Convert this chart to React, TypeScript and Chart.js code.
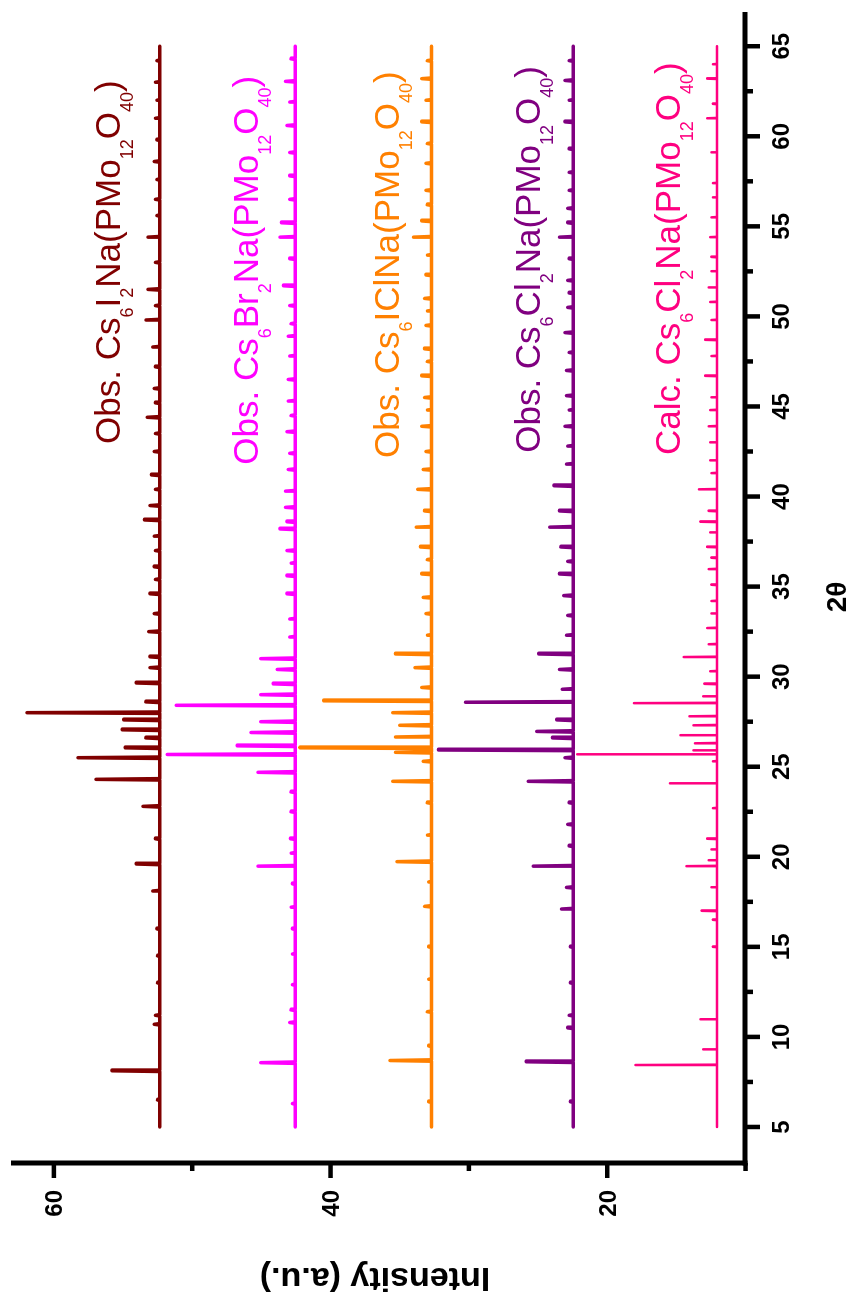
import React, { useEffect, useRef } from 'react';
import { Chart, registerables } from 'chart.js';

Chart.register(...registerables);

// ---- axes ----
const X_MIN = 3.0;
const X_MAX = 66.9;
const Y_MIN = 10.04;
const Y_MAX = 63.1;
const X_TICKS = [5, 10, 15, 20, 25, 30, 35, 40, 45, 50, 55, 60, 65];
const X_TICK_LABELS = ['5', '10', '15', '20', '25', '30', '35', '40', '45', '50', '55', '60', '65'];
const X_MINOR = [7.5, 12.5, 17.5, 22.5, 27.5, 32.5, 37.5, 42.5, 47.5, 52.5, 57.5, 62.5];
const Y_TICKS = [20, 40, 60];
const Y_TICK_LABELS = ['20', '40', '60'];
const Y_MINOR = [10, 30, 50];
const X_TITLE = '2θ';
const Y_TITLE = 'Intensity (a.u.)';
const TRACE_START = 5;
const TRACE_END = 65;

// ---- Obs. Cs6I2Na(PMo12O40) ----
const I2_BASE = 52.35;
const I2_POS = [6.5, 8.12, 10.7, 11.2, 13.0, 14.5, 16.0, 18.1, 19.6, 21.0, 22.8, 24.3, 25.5, 26.05, 26.6, 27.05, 27.6, 28.0, 28.6, 29.65, 30.5, 31.1, 32.5, 33.5, 34.6, 35.4, 36.1, 37.0, 37.8, 38.7, 39.5, 40.4, 41.2, 42.5, 43.5, 44.4, 45.2, 46.0, 47.2, 48.3, 49.8, 50.6, 51.5, 53.0, 54.4, 55.6, 56.5, 57.6, 58.6, 59.8, 61.0, 62.0, 63.0, 64.2];
const I2_H = [0.15, 3.45, 0.4, 0.3, 0.15, 0.15, 0.2, 0.5, 1.7, 0.3, 1.2, 4.6, 5.9, 2.5, 1.0, 2.7, 2.6, 9.6, 1.0, 1.7, 0.7, 0.7, 0.8, 0.4, 0.7, 0.3, 0.4, 0.3, 0.4, 1.1, 0.7, 0.3, 0.6, 0.4, 0.3, 0.9, 0.3, 0.4, 0.3, 0.5, 1.0, 0.3, 0.85, 0.3, 0.85, 0.2, 0.3, 0.2, 0.4, 0.2, 0.3, 0.2, 0.3, 0.2];

// ---- Obs. Cs6Br2Na(PMo12O40) ----
const BR_BASE = 42.55;
const BR_POS = [6.3, 8.57, 10.8, 11.5, 12.9, 14.6, 16.0, 17.2, 18.5, 19.48, 20.2, 21.0, 22.5, 23.6, 24.69, 25.68, 26.16, 26.9, 27.5, 28.41, 29.0, 29.6, 30.4, 31.0, 32.2, 33.2, 34.6, 35.6, 36.3, 37.0, 38.2, 38.6, 39.4, 40.3, 41.5, 42.4, 43.6, 44.5, 45.3, 46.5, 47.8, 48.9, 49.6, 50.6, 51.7, 53.2, 54.4, 55.2, 56.5, 57.8, 59.1, 60.6, 61.9, 63.05, 64.3];
const BR_H = [0.2, 2.5, 0.4, 0.3, 0.2, 0.2, 0.2, 0.3, 0.2, 2.7, 0.3, 0.35, 0.3, 0.3, 2.7, 9.25, 4.2, 3.2, 2.5, 8.6, 2.5, 1.6, 1.3, 2.5, 0.4, 0.4, 0.6, 0.6, 0.3, 0.6, 1.1, 0.6, 0.7, 0.7, 0.5, 0.4, 0.6, 0.3, 0.5, 0.5, 0.4, 0.5, 0.3, 0.4, 0.85, 0.4, 1.1, 1.0, 0.4, 0.4, 0.4, 0.6, 0.4, 0.7, 0.3];

// ---- Obs. Cs6IClNa(PMo12O40) ----
const ICL_BASE = 32.7;
const ICL_POS = [6.4, 8.69, 9.5, 11.4, 13.2, 15.0, 17.25, 18.6, 19.73, 21.2, 23.0, 24.19, 25.3, 25.8, 26.05, 26.65, 27.3, 28.0, 28.66, 29.4, 30.5, 31.26, 32.3, 33.5, 34.4, 35.7, 36.5, 37.2, 38.3, 39.2, 40.4, 41.5, 42.5, 43.9, 44.8, 45.5, 46.7, 47.5, 48.2, 49.5, 50.3, 51.0, 52.3, 53.4, 54.4, 55.3, 56.2, 57.0, 58.5, 59.6, 60.8, 62.0, 63.2, 64.2];
const ICL_H = [0.2, 3.0, 0.2, 0.3, 0.2, 0.2, 0.5, 0.2, 2.5, 0.3, 0.3, 2.8, 0.6, 2.6, 9.5, 2.6, 2.3, 2.8, 7.8, 0.7, 1.2, 2.6, 0.3, 0.4, 0.6, 0.7, 0.3, 0.8, 1.1, 0.5, 1.0, 0.6, 0.4, 0.7, 0.3, 0.5, 0.7, 0.3, 0.5, 0.4, 0.3, 0.5, 0.4, 0.3, 1.3, 0.7, 0.3, 0.4, 0.4, 0.3, 0.7, 0.4, 0.7, 0.3];

// ---- Obs. Cs6Cl2Na(PMo12O40) ----
const CL_BASE = 22.45;
const CL_POS = [6.4, 8.62, 10.5, 11.2, 13.0, 15.0, 17.1, 18.3, 19.48, 20.6, 21.8, 23.0, 24.19, 25.5, 25.93, 26.6, 26.96, 27.6, 28.58, 29.3, 30.4, 31.26, 32.3, 33.4, 34.5, 35.7, 36.4, 37.2, 38.3, 39.2, 40.6, 41.8, 42.8, 43.9, 44.8, 45.6, 47.0, 48.0, 49.1, 50.5, 51.3, 52.0, 53.2, 54.4, 55.2, 56.0, 57.0, 58.0, 59.3, 60.8, 62.0, 63.1, 64.2];
const CL_H = [0.2, 3.4, 0.4, 0.3, 0.2, 0.2, 0.85, 0.5, 2.9, 0.3, 0.4, 0.3, 3.25, 0.6, 9.75, 1.5, 2.65, 1.2, 7.8, 0.8, 1.0, 2.5, 0.5, 0.4, 0.7, 1.0, 0.4, 0.9, 1.7, 1.0, 1.4, 0.5, 0.4, 0.6, 0.3, 0.5, 0.5, 0.3, 0.6, 0.4, 0.3, 0.4, 0.3, 1.0, 0.4, 0.4, 0.3, 0.3, 0.3, 0.6, 0.3, 0.6, 0.3];

// ---- Calc. Cs6Cl2Na(PMo12O40) ----
const CALC_BASE = 12.06;
const CALC_POS = [8.44, 9.3, 10.97, 15.0, 16.5, 17.0, 18.3, 19.48, 19.8, 20.4, 21.0, 22.7, 24.07, 25.3, 25.68, 25.9, 26.3, 26.74, 27.3, 27.8, 28.53, 28.9, 29.6, 30.3, 31.09, 31.8, 32.7, 33.5, 34.2, 35.1, 35.97, 36.6, 37.2, 38.0, 38.6, 39.2, 40.4, 41.3, 42.0, 43.0, 43.9, 44.8, 45.5, 46.7, 47.8, 48.7, 49.8, 50.8, 51.6, 52.5, 53.3, 54.4, 55.5, 56.6, 57.4, 59.1, 61.0, 61.8, 63.2, 64.0];
const CALC_H = [5.9, 1.0, 1.2, 0.3, 0.3, 1.1, 0.4, 2.2, 0.6, 0.4, 0.7, 0.3, 3.4, 0.3, 10.1, 1.7, 1.6, 2.65, 1.7, 2.0, 6.0, 1.0, 0.9, 0.5, 2.4, 0.6, 0.7, 0.4, 0.4, 0.4, 0.6, 0.4, 0.7, 0.5, 1.2, 0.6, 1.3, 0.4, 0.5, 0.5, 0.6, 0.5, 0.4, 0.85, 0.4, 0.85, 0.4, 0.5, 0.6, 0.4, 0.4, 0.5, 0.4, 0.3, 0.3, 0.4, 0.7, 0.3, 0.7, 0.3];

const COLORS = ['#800000', '#FF00FF', '#FF8000', '#800080', '#FF0080'];

type Part = [string, boolean];
const LABEL_TEXTS: Part[][] = [
  [['Obs. Cs', false], ['6', true], ['I', false], ['2', true], ['Na(PMo', false], ['12', true], ['O', false], ['40', true], [')', false]],
  [['Obs. Cs', false], ['6', true], ['Br', false], ['2', true], ['Na(PMo', false], ['12', true], ['O', false], ['40', true], [')', false]],
  [['Obs. Cs', false], ['6', true], ['IClNa(PMo', false], ['12', true], ['O', false], ['40', true], [')', false]],
  [['Obs. Cs', false], ['6', true], ['Cl', false], ['2', true], ['Na(PMo', false], ['12', true], ['O', false], ['40', true], [')', false]],
  [['Calc. Cs', false], ['6', true], ['Cl', false], ['2', true], ['Na(PMo', false], ['12', true], ['O', false], ['40', true], [')', false]],
];
// anchor (right end in 2θ, baseline in intensity) of each label
const LABEL_END = [63.1, 63.35, 63.6, 63.9, 64.1];
const LABEL_BASE = [55.22, 45.24, 35.05, 24.85, 14.73];

const FONT = '"Liberation Sans", Arial, sans-serif';

function buildTrace(base: number, pos: number[], h: number[], w: number) {
  const pts: { x: number; y: number }[] = [{ x: TRACE_START, y: base }];
  for (let i = 0; i < pos.length; i++) {
    const p = pos[i];
    const prev = i > 0 ? pos[i - 1] : -Infinity;
    const next = i < pos.length - 1 ? pos[i + 1] : Infinity;
    const lw = Math.min(w, (p - prev) / 2);
    const rw = Math.min(w, (next - p) / 2);
    pts.push({ x: p - lw, y: base }, { x: p, y: base + h[i] }, { x: p + rw, y: base });
  }
  pts.push({ x: TRACE_END, y: base });
  return pts;
}

const decorPlugin = {
  id: 'decor',
  afterDraw(chart: any) {
    const { ctx, chartArea } = chart;
    const { left, right, top, bottom } = chartArea;
    const xs = chart.scales.x;
    const ys = chart.scales.y;
    ctx.save();
    ctx.strokeStyle = '#000';
    ctx.fillStyle = '#000';
    ctx.lineCap = 'butt';

    // axis lines
    ctx.lineWidth = 5;
    ctx.beginPath();
    ctx.moveTo(left - 2.5, bottom);
    ctx.lineTo(right, bottom);
    ctx.stroke();
    ctx.beginPath();
    ctx.moveTo(left, top);
    ctx.lineTo(left, bottom + 2.5);
    ctx.stroke();

    // ticks
    ctx.lineWidth = 4.5;
    X_TICKS.forEach((v) => {
      const px = xs.getPixelForValue(v);
      ctx.beginPath();
      ctx.moveTo(px, bottom);
      ctx.lineTo(px, bottom + 15);
      ctx.stroke();
    });
    X_MINOR.forEach((v) => {
      const px = xs.getPixelForValue(v);
      ctx.beginPath();
      ctx.moveTo(px, bottom);
      ctx.lineTo(px, bottom + 8);
      ctx.stroke();
    });
    Y_TICKS.forEach((v) => {
      const py = ys.getPixelForValue(v);
      ctx.beginPath();
      ctx.moveTo(left, py);
      ctx.lineTo(left - 15, py);
      ctx.stroke();
    });
    Y_MINOR.forEach((v) => {
      const py = ys.getPixelForValue(v);
      if (py > bottom + 3) return;
      ctx.beginPath();
      ctx.moveTo(left, py);
      ctx.lineTo(left - 8, py);
      ctx.stroke();
    });

    // tick labels
    ctx.font = `bold 24px ${FONT}`;
    ctx.textBaseline = 'alphabetic';
    ctx.textAlign = 'center';
    X_TICKS.forEach((v, i) => {
      ctx.fillText(X_TICK_LABELS[i], xs.getPixelForValue(v), 789);
    });
    ctx.textAlign = 'right';
    Y_TICKS.forEach((v, i) => {
      ctx.fillText(Y_TICK_LABELS[i], 110, ys.getPixelForValue(v) + 8.6);
    });

    // axis titles
    ctx.font = `bold 28px ${FONT}`;
    ctx.textAlign = 'center';
    ctx.fillText(X_TITLE, 703, 846);

    ctx.save();
    ctx.font = `bold 34px ${FONT}`;
    ctx.translate(32, (top + bottom) / 2 - 3);
    ctx.rotate(-Math.PI / 2);
    ctx.textAlign = 'center';
    ctx.fillText(Y_TITLE, 0, 0);
    ctx.restore();

    // series labels
    const mainFont = `35px ${FONT}`;
    const subFont = `18px ${FONT}`;
    LABEL_TEXTS.forEach((parts, k) => {
      let total = 0;
      parts.forEach(([t, sub]) => {
        ctx.font = sub ? subFont : mainFont;
        total += ctx.measureText(t).width;
      });
      const endX = xs.getPixelForValue(LABEL_END[k]);
      const baseY = ys.getPixelForValue(LABEL_BASE[k]);
      let cx = endX - total;
      ctx.fillStyle = COLORS[k];
      ctx.textAlign = 'left';
      parts.forEach(([t, sub]) => {
        ctx.font = sub ? subFont : mainFont;
        ctx.fillText(t, cx, sub ? baseY + 13 : baseY);
        cx += ctx.measureText(t).width;
      });
    });
    ctx.restore();
  },
};

export default function App() {
  const ref = useRef<HTMLCanvasElement | null>(null);

  useEffect(() => {
    if (!ref.current) return;
    const series = [
      { base: I2_BASE, pos: I2_POS, h: I2_H, w: 0.04, lw: 3.5 },
      { base: BR_BASE, pos: BR_POS, h: BR_H, w: 0.04, lw: 3.5 },
      { base: ICL_BASE, pos: ICL_POS, h: ICL_H, w: 0.04, lw: 3.5 },
      { base: CL_BASE, pos: CL_POS, h: CL_H, w: 0.04, lw: 3.5 },
      { base: CALC_BASE, pos: CALC_POS, h: CALC_H, w: 0.02, lw: 2.5 },
    ];
    const chart = new Chart(ref.current, {
      type: 'line',
      data: {
        datasets: series.map((s, i) => ({
          data: buildTrace(s.base, s.pos, s.h, s.w),
          borderColor: COLORS[i],
          backgroundColor: COLORS[i],
          borderWidth: s.lw,
          pointRadius: 0,
          tension: 0,
          fill: false,
          borderJoinStyle: 'round' as const,
          borderCapStyle: 'round' as const,
        })),
      },
      options: {
        animation: false,
        responsive: false,
        devicePixelRatio: 1,
        layout: { padding: { top: 11, right: 12, left: 0, bottom: 0 } },
        plugins: { legend: { display: false }, tooltip: { enabled: false } },
        scales: {
          x: {
            type: 'linear',
            min: X_MIN,
            max: X_MAX,
            grid: { display: false, drawTicks: false },
            border: { display: false },
            ticks: { display: false },
            afterFit: (s: any) => {
              s.height = 108;
            },
          },
          y: {
            type: 'linear',
            min: Y_MIN,
            max: Y_MAX,
            grid: { display: false, drawTicks: false },
            border: { display: false },
            ticks: { display: false },
            afterFit: (s: any) => {
              s.width = 137;
            },
          },
        },
      },
      plugins: [decorPlugin],
    });
    return () => chart.destroy();
  }, []);

  return (
    <div
      style={{
        position: 'absolute',
        left: 0,
        top: 0,
        width: 853,
        height: 1300,
        overflow: 'hidden',
        background: '#fff',
      }}
    >
      <div
        style={{
          position: 'absolute',
          left: 0,
          top: 0,
          width: 1300,
          height: 853,
          transformOrigin: '0 0',
          transform: 'translateY(1300px) rotate(-90deg)',
        }}
      >
        <canvas ref={ref} width={1300} height={853} style={{ width: 1300, height: 853, display: 'block' }} />
      </div>
    </div>
  );
}
